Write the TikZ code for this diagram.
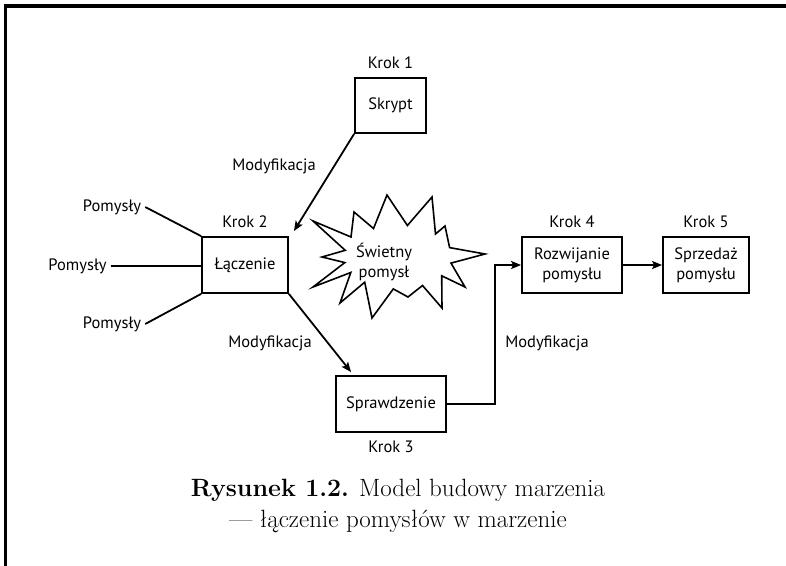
\documentclass[tikz,border=0pt]{standalone}
\usepackage{fontspec}
\setsansfont{PT Sans}
\usetikzlibrary{arrows.meta,positioning}

\begin{document}
\begin{tikzpicture}[x=1pt,y=-1pt,>={Stealth[length=10pt,width=8pt,inset=2pt]},line width=1.8pt,
  every node/.style={font=\sffamily\fontsize{16.5}{20}\selectfont},
  box/.style={draw,line width=1.8pt,inner sep=0pt,minimum height=56pt,align=center},
  krok/.style={inner sep=1pt}]
\useasboundingbox (0,0) rectangle (786,565);
% frame (only top and left edge show)
\draw[line width=3.3pt] (5.5,570) -- (5.5,6) -- (790,6);

\node[box,minimum width=71pt,minimum height=55pt] (skrypt) at (390.5,105.5) {Skrypt};
\node[box,minimum width=86pt] (laczenie) at (245,265) {Łączenie};
\node[box,minimum width=110pt] (sprawdzenie) at (391,404) {Sprawdzenie};
\node[box,minimum width=100pt] (rozwijanie) at (572,265) {Rozwijanie\\pomysłu};
\node[box,minimum width=86pt] (sprzedaz) at (706,265) {Sprzedaż\\pomysłu};

\node[krok,above=7pt of skrypt] (krok1) {Krok 1};
\node[krok,above=7pt of laczenie] (krok2) {Krok 2};
\node[krok,below=6pt of sprawdzenie] (krok3) {Krok 3};
\node[krok,above=7pt of rozwijanie] (krok4) {Krok 4};
\node[krok,above=7pt of sprzedaz] (krok5) {Krok 5};

\node (pom1) at (112,207) {Pomysły};
\node (pom2) at (77.5,266) {Pomysły};
\node (pom3) at (112,324) {Pomysły};
\draw (pom1.east) -- (laczenie.north west);
\draw (pom2.east) -- (pom2.east -| laczenie.west);
\draw (pom3.east) -- (laczenie.south west);

\node (mod1) at (274,166) {Modyfikacja};
\node (mod2) at (270,343) {Modyfikacja};
\node (mod3) at (547,343) {Modyfikacja};

\draw[->] (skrypt.south west) -- ([xshift=5pt,yshift=5pt]laczenie.north east);
\draw[->] (laczenie.south east) -- ([xshift=16pt,yshift=3pt]sprawdzenie.north west);
\draw[->] (sprawdzenie.east) -- ++(48,0) |- (rozwijanie.west);
\draw[->] (rozwijanie.east) -- (sprzedaz.west);

% star burst
\draw[line width=1.6pt] (313,221) -- (351,237) -- (354,212) -- (373.5,228.5) -- (387,195)
  -- (407.4,225.5) -- (432,197) -- (435.5,234) -- (445,226) -- (449.6,247.6) -- (485,254)
  -- (451,263.1) -- (465,287) -- (441.7,275.8) -- (442,308) -- (422.5,285.5) -- (408,297)
  -- (393.3,288.9) -- (372,318) -- (364.7,282.2) -- (340,303) -- (350.8,272.5) -- (313,287)
  -- (344.8,262.6) -- (322,257) -- (345.2,250.3) -- cycle;
\node[align=center] (swietny) at (384,262) {Świetny\\pomysł};

\node[font=\rmfamily\fontsize{25}{31}\selectfont,align=center] (podpis) at (398,506)
  {\textbf{Rysunek 1.2.} Model budowy marzenia\\— łączenie pomysłów w marzenie};
\end{tikzpicture}
\end{document}
